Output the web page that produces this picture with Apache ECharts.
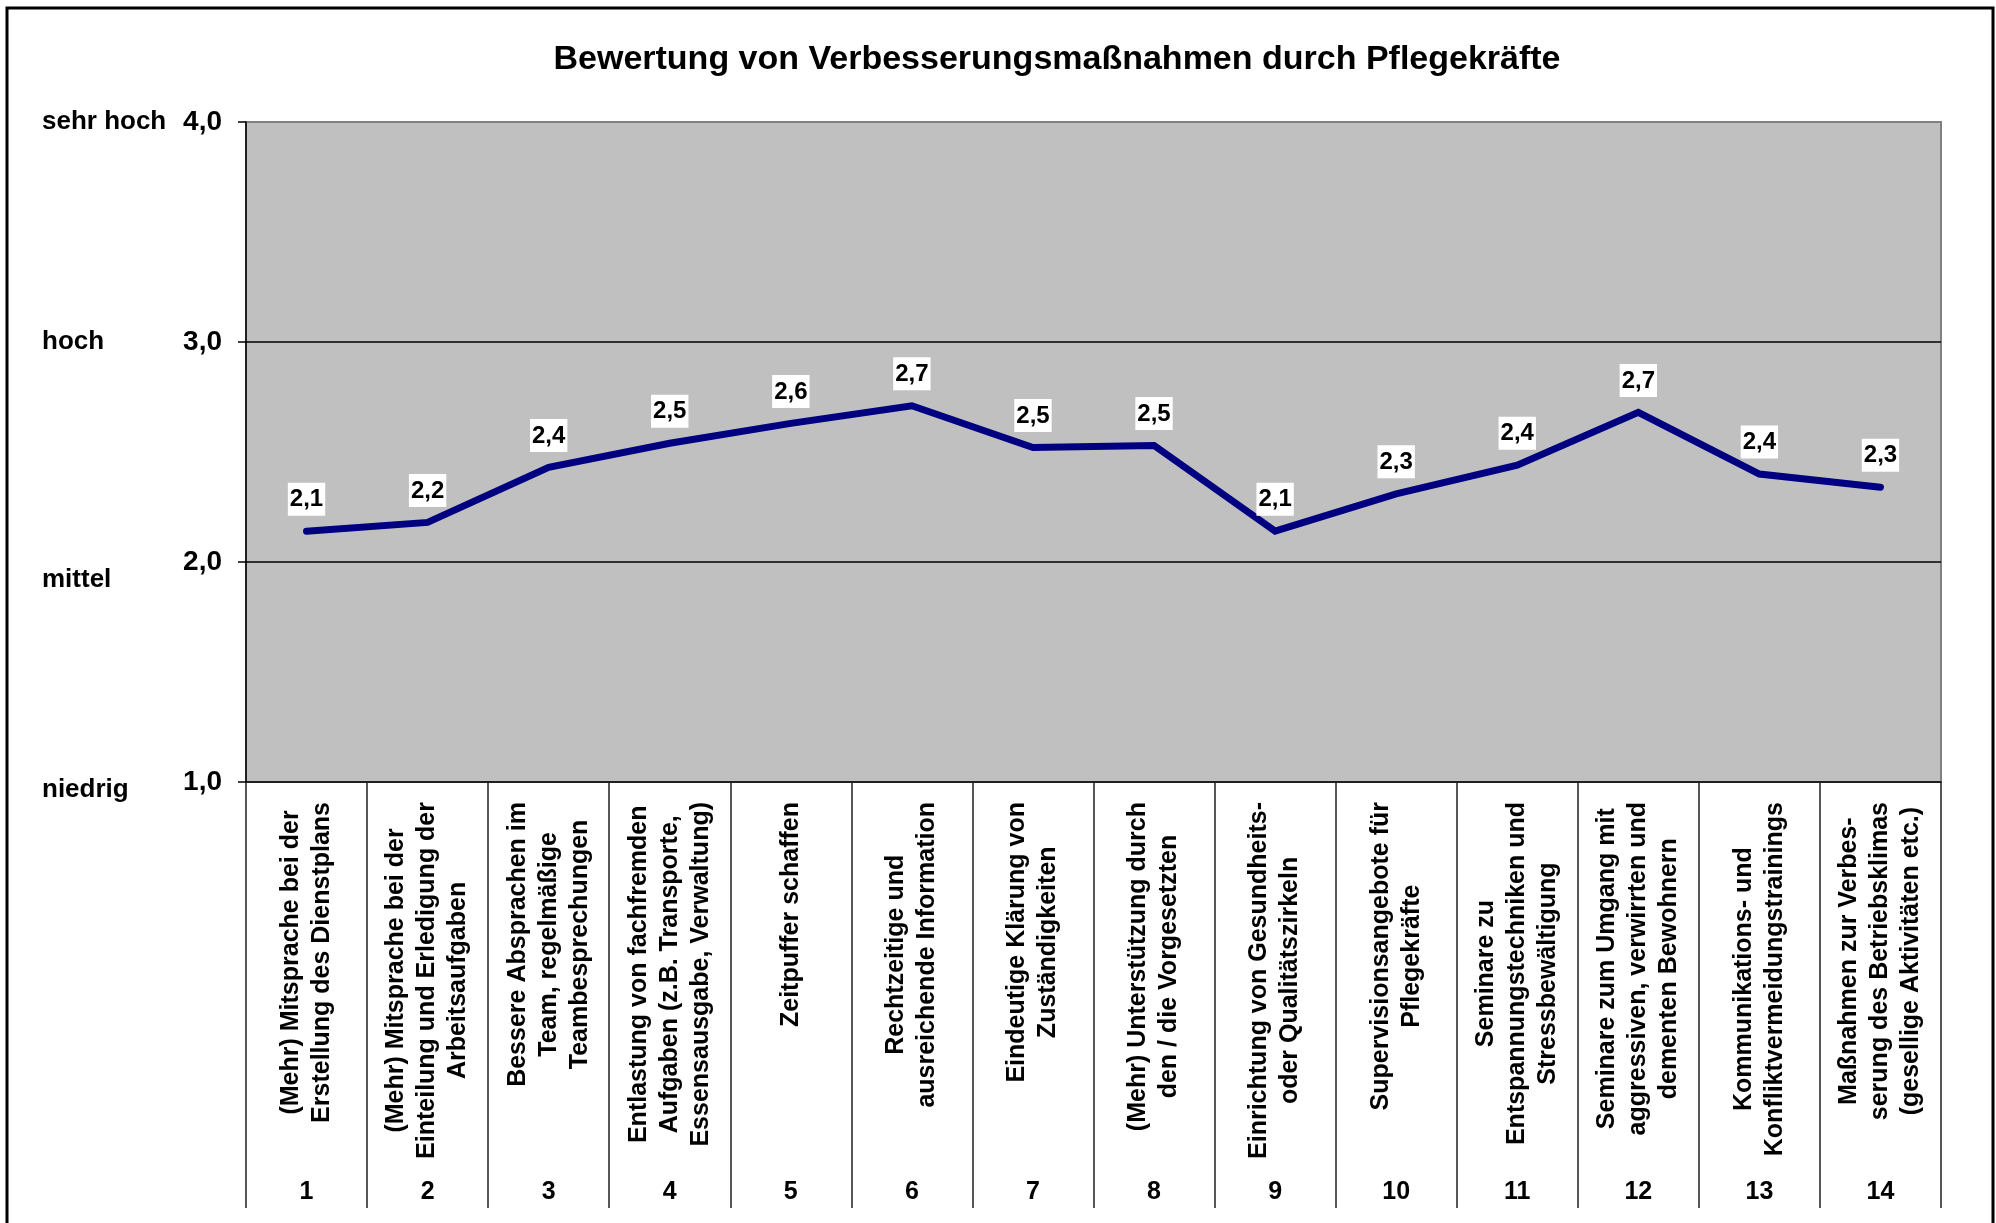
<!DOCTYPE html>
<html>
<head>
<meta charset="utf-8">
<script src="https://cdn.jsdelivr.net/npm/echarts@6/dist/echarts.min.js"></script>
<style>
  html, body { margin: 0; padding: 0; background: #fff; }
  #chart { width: 1996px; height: 1223px; }
</style>
</head>
<body>
<div id="chart"></div>
<script>
var titleText = 'Bewertung von Verbesserungsmaßnahmen durch Pflegekräfte';

// Maßnahmen (Zeilen je Beschriftung)
var categories = [
  '(Mehr) Mitsprache bei der\nErstellung des Dienstplans',
  '(Mehr) Mitsprache bei der\nEinteilung und Erledigung der\nArbeitsaufgaben',
  'Bessere Absprachen im\nTeam, regelmäßige\nTeambesprechungen',
  'Entlastung von fachfremden\nAufgaben (z.B. Transporte,\nEssensausgabe, Verwaltung)',
  'Zeitpuffer schaffen',
  'Rechtzeitige und\nausreichende Information',
  'Eindeutige Klärung von\nZuständigkeiten',
  '(Mehr) Unterstützung durch\nden / die Vorgesetzten',
  'Einrichtung von Gesundheits-\noder Qualitätszirkeln',
  'Supervisionsangebote für\nPflegekräfte',
  'Seminare zu\nEntspannungstechniken und\nStressbewältigung',
  'Seminare zum Umgang mit\naggressiven, verwirrten und\ndementen Bewohnern',
  'Kommunikations- und\nKonfliktvermeidungstrainings',
  'Maßnahmen zur Verbes-\nserung des Betriebsklimas\n(gesellige Aktivitäten etc.)'
];
var numbers = ['1', '2', '3', '4', '5', '6', '7', '8', '9', '10', '11', '12', '13', '14'];

// Mittelwerte der Bewertung
var ratings = [2.14, 2.18, 2.43, 2.54, 2.63, 2.71, 2.52, 2.53, 2.14, 2.31, 2.44, 2.68, 2.40, 2.34];

// Skala
var scaleWords = {1: 'niedrig', 2: 'mittel', 3: 'hoch', 4: 'sehr hoch'};

var font = 'Liberation Sans, Arial, sans-serif';

function comma(v) {
  return v.toFixed(1).replace('.', ',');
}

var chart = echarts.init(document.getElementById('chart'));

var option = {
  backgroundColor: '#fff',
  animation: false,
  title: {
    text: titleText,
    left: 1052,
    textAlign: 'center',
    top: 38,
    textStyle: { fontFamily: font, fontSize: 34, fontWeight: 'bold', color: '#000' }
  },
  graphic: [{
    type: 'rect',
    shape: { x: 7, y: 8, width: 1986, height: 1240 },
    style: { fill: 'none', stroke: '#000', lineWidth: 3 },
    silent: true
  }],
  grid: {
    left: 246,
    right: 55,
    top: 122,
    height: 660,
    show: true,
    backgroundColor: '#c0c0c0',
    borderColor: '#808080',
    borderWidth: 2
  },
  xAxis: [{
    type: 'category',
    data: categories,
    boundaryGap: true,
    axisLine: { show: true, lineStyle: { color: '#000', width: 1.5 } },
    axisTick: { show: true, length: 426, lineStyle: { color: '#202020', width: 1.5 } },
    axisLabel: {
      interval: 0,
      rotate: 90,
      margin: 20,
      color: '#000',
      formatter: function (v) {
        return v.split('\n').map(function (s) { return '{c|' + s + '}'; }).join('\n');
      },
      rich: {
        c: { align: 'center', fontFamily: font, fontSize: 25, fontWeight: 'bold', lineHeight: 31, color: '#000' }
      }
    },
    splitLine: { show: false }
  }, {
    type: 'category',
    data: numbers,
    position: 'bottom',
    boundaryGap: true,
    axisLine: { show: false },
    axisTick: { show: false },
    axisLabel: {
      interval: 0,
      margin: 398,
      fontFamily: font,
      fontSize: 25,
      fontWeight: 'bold',
      color: '#000'
    },
    splitLine: { show: false }
  }],
  yAxis: {
    type: 'value',
    min: 1,
    max: 4,
    interval: 1,
    axisLine: { show: true, lineStyle: { color: '#000', width: 1.5 } },
    axisTick: { show: true, length: 8, lineStyle: { color: '#000', width: 1.5 } },
    splitLine: { show: true, showMaxLine: false, showMinLine: false, lineStyle: { color: '#000', width: 1.5 } },
    axisLabel: {
      margin: 24,
      formatter: function (v) {
        var w = scaleWords[v] || '';
        var key = v === 2 ? 'd2' : (v === 1 ? 'd1' : 'd');
        return '{' + key + '|' + w + '}{n|' + comma(v) + '}';
      },
      rich: {
        d: { width: 134, align: 'left', fontFamily: font, fontSize: 26, fontWeight: 'bold', color: '#000' },
        d2: { width: 134, align: 'left', fontFamily: font, fontSize: 26, fontWeight: 'bold', color: '#000', padding: [36, 0, 0, 0] },
        d1: { width: 134, align: 'left', fontFamily: font, fontSize: 26, fontWeight: 'bold', color: '#000', padding: [16, 0, 0, 0] },
        n: { width: 46, align: 'right', fontFamily: font, fontSize: 28, fontWeight: 'bold', color: '#000' }
      }
    }
  },
  series: [{
    type: 'line',
    xAxisIndex: 0,
    data: ratings,
    symbol: 'circle',
    symbolSize: 1,
    showSymbol: true,
    itemStyle: { color: '#000080' },
    lineStyle: { color: '#000080', width: 7, cap: 'round', join: 'miter' },
    label: {
      show: true,
      position: 'top',
      distance: 15,
      formatter: function (p) { return comma(p.value); },
      fontFamily: font,
      fontSize: 24,
      fontWeight: 'bold',
      color: '#000',
      backgroundColor: '#fff',
      padding: [5, 2, 4, 2],
      lineHeight: 24
    }
  }]
};

chart.setOption(option);
</script>
</body>
</html>
